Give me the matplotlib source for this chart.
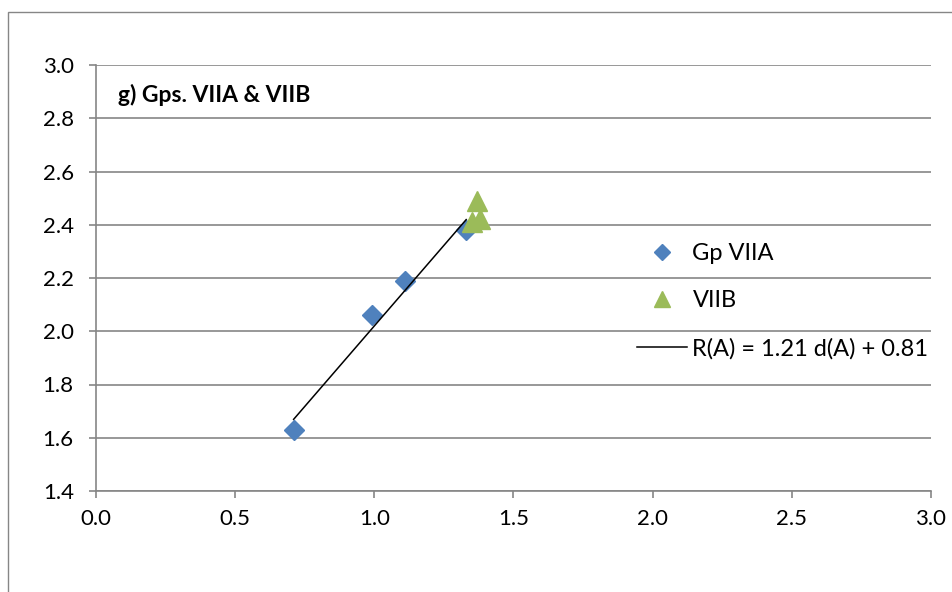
import matplotlib
matplotlib.use("Agg")
import matplotlib.pyplot as plt
import matplotlib.patches as patches

plt.rcParams['font.family'] = ['Lato', 'DejaVu Sans']

# Group VIIA
d_a = [0.71, 0.99, 1.11, 1.33]
r_a = [1.63, 2.06, 2.19, 2.38]

# Group VIIB
d_b = [1.37, 1.35, 1.38]
r_b = [2.49, 2.41, 2.42]

# fitted line R(A) = slope * d(A) + icept
slope = 1.21
icept = 0.81
fit_x = [min(d_a), max(d_a)]

xticks = [0.0, 0.5, 1.0, 1.5, 2.0, 2.5, 3.0]
yticks = [1.4, 1.6, 1.8, 2.0, 2.2, 2.4, 2.6, 2.8, 3.0]

W, H = 953, 592
grey = '#868686'

fig = plt.figure(figsize=(W / 100, H / 100), dpi=100)
ax = fig.add_axes([96 / W, 1 - 491 / H, (931 - 96) / W, (491 - 65) / H])

# outer chart border
fig.patches.append(patches.Rectangle((8 / W, -0.1), 1.2, 1.1 - 12 / H,
                                     transform=fig.transFigure, fill=False,
                                     edgecolor=grey, linewidth=1.0))

ax.set_xlim(0, 3)
ax.set_ylim(1.4, 3.0)
ax.set_xticks(xticks)
ax.set_yticks(yticks)
ax.set_xticklabels(['%.1f' % v for v in xticks])
ax.set_yticklabels(['%.1f' % v for v in yticks])
ax.tick_params(axis='both', labelsize=16, colors=grey, labelcolor='black',
               length=5, width=1.2, direction='out')
ax.tick_params(axis='x', pad=8)
ax.tick_params(axis='y', pad=11)

for side in ['top', 'right']:
    ax.spines[side].set_visible(False)
for side in ['left', 'bottom']:
    ax.spines[side].set_color(grey)
    ax.spines[side].set_linewidth(1.2)

ax.yaxis.grid(True, color=grey, linewidth=1.2)
ax.set_axisbelow(True)

ax.plot(d_a, r_a, linestyle='none', marker='D', markersize=10.3,
        color='#4F81BD', label='Gp VIIA', zorder=3)
ax.plot(d_b, r_b, linestyle='none', marker='^', markersize=14,
        color='#9BBB59', label='VIIB', zorder=3)
ax.plot(fit_x, [slope * x + icept for x in fit_x], color='black',
        linewidth=1.1, label='R(A) = %.2f d(A) + %.2f' % (slope, icept), zorder=4)

ax.text(22 / 835, (491 - 102) / 426, 'g) Gps. VIIA & VIIB', transform=ax.transAxes,
        fontsize=16.5, fontweight='bold', va='baseline', ha='left')

leg = ax.legend(loc='upper left', bbox_to_anchor=(637 / W, 1 - 243 / H),
                bbox_transform=fig.transFigure, frameon=False, fontsize=17,
                borderpad=0, borderaxespad=0, handlelength=2.1,
                handletextpad=0.25, labelspacing=1.12, markerscale=0.83)

fig.savefig('out.png', dpi=100)
